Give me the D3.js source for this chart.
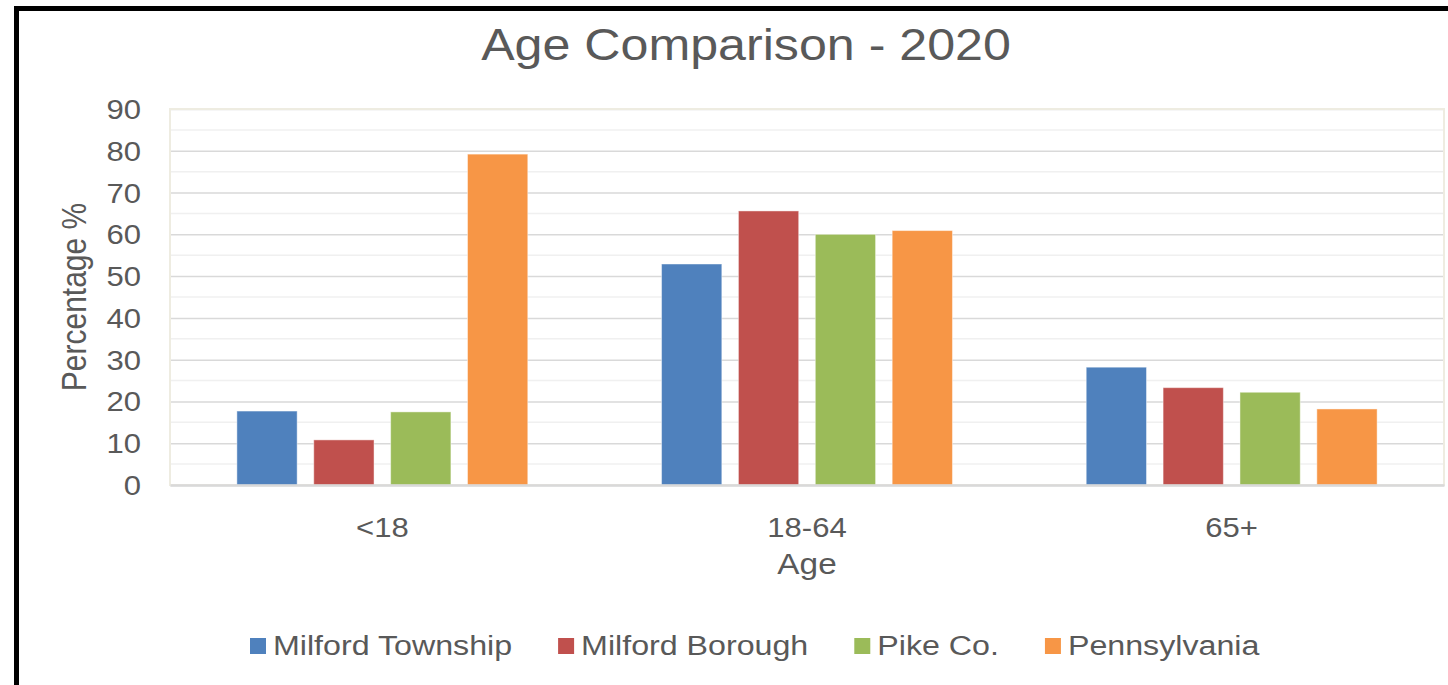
<!DOCTYPE html>
<html>
<head>
<meta charset="utf-8">
<script src="https://cdn.jsdelivr.net/npm/d3@7"></script>
<style>
  body { margin: 0; background: #fff; }
  text { font-family: "Liberation Sans", Arial, sans-serif; fill: #595959; }
</style>
</head>
<body>
<div id="chart"></div>
<script>
// data
const ageGroups = ["<18", "18-64", "65+"];
const seriesNames = ["Milford Township", "Milford Borough", "Pike Co.", "Pennsylvania"];
const milfordTownship = [17.7, 52.9, 28.2];
const milfordBorough = [10.8, 65.6, 23.3];
const pikeCo = [17.5, 60.0, 22.2];
const pennsylvania = [79.2, 60.9, 18.2];
const yTicks = [0, 10, 20, 30, 40, 50, 60, 70, 80, 90];
const colors = ["#4F81BD", "#C0504D", "#9BBB59", "#F79646"];

const seriesValues = [milfordTownship, milfordBorough, pikeCo, pennsylvania];
const rows = ageGroups.map((g, i) => ({
  group: g,
  vals: seriesNames.map((s, j) => ({ key: s, value: seriesValues[j][i] }))
}));

const width = 1448, height = 685;
const sx = 1.15; // text in the original is a bit wide

const svg = d3.select("#chart").append("svg")
  .attr("width", width)
  .attr("height", height);

// outer black frame (right/bottom cut off in the picture)
svg.append("rect")
  .attr("x", 16.5).attr("y", 8.5)
  .attr("width", 1500).attr("height", 800)
  .attr("fill", "none")
  .attr("stroke", "#000")
  .attr("stroke-width", 5);

const plotL = 170, plotR = 1444, plotT = 109, plotB = 485;

const x0 = d3.scaleBand().domain(ageGroups).range([plotL, plotR]);
const x1 = d3.scaleBand().domain(seriesNames)
  .range([0, x0.bandwidth()])
  .paddingInner(0.216)
  .paddingOuter(0.87);
const y = d3.scaleLinear().domain([0, 90]).range([plotB, plotT]);

// minor gridlines
svg.append("g")
  .selectAll("line")
  .data(d3.range(5, 90, 10))
  .join("line")
  .attr("x1", plotL).attr("x2", plotR)
  .attr("y1", d => y(d)).attr("y2", d => y(d))
  .attr("stroke", "#F0F0F0")
  .attr("stroke-width", 1.5);

// major gridlines + labels through the axis
const yAxis = svg.append("g")
  .attr("transform", `translate(${plotL},0)`)
  .call(d3.axisLeft(y).tickValues(yTicks).tickSize(-(plotR - plotL)).tickPadding(0));
yAxis.select(".domain").remove();
yAxis.selectAll(".tick line")
  .attr("stroke", "#D9D9D9")
  .attr("stroke-width", 1.5);
yAxis.selectAll(".tick text")
  .attr("x", 0)
  .attr("transform", `translate(-29,0) scale(${sx},1)`)
  .attr("dy", "0.35em")
  .style("font-size", "27px")
  .style("font-family", "'Liberation Sans', Arial, sans-serif")
  .attr("fill", "#595959");

// plot area border (beige)
svg.append("rect")
  .attr("x", plotL).attr("y", plotT)
  .attr("width", plotR - plotL).attr("height", plotB - plotT)
  .attr("fill", "none")
  .attr("stroke", "#EEECE1")
  .attr("stroke-width", 2);

// bars
svg.append("g")
  .selectAll("g")
  .data(rows)
  .join("g")
  .attr("transform", d => `translate(${x0(d.group)},0)`)
  .selectAll("rect")
  .data(d => d.vals)
  .join("rect")
  .attr("x", d => x1(d.key))
  .attr("width", x1.bandwidth())
  .attr("y", d => y(d.value))
  .attr("height", d => y(0) - y(d.value))
  .attr("fill", (d, i) => colors[i])
  .attr("stroke", "rgba(255,255,255,0.45)")
  .attr("stroke-width", 1);

// x axis
const xAxis = svg.append("g")
  .attr("transform", `translate(0,${plotB})`)
  .call(d3.axisBottom(x0).tickSize(0).tickPadding(0));
xAxis.select(".domain")
  .attr("stroke", "#D9D9D9")
  .attr("stroke-width", 2.5);
xAxis.selectAll(".tick text")
  .attr("y", 0)
  .attr("dy", 0)
  .attr("transform", `translate(0,52) scale(${sx},1)`)
  .style("font-size", "27px")
  .style("font-family", "'Liberation Sans', Arial, sans-serif")
  .attr("fill", "#595959");

// title
svg.append("text")
  .attr("transform", `translate(746,60) scale(1.14,1)`)
  .attr("text-anchor", "middle")
  .style("font-size", "44px")
  .text("Age Comparison - 2020");

// axis titles
svg.append("text")
  .attr("transform", `translate(${(plotL + plotR) / 2},574) scale(${sx},1)`)
  .attr("text-anchor", "middle")
  .style("font-size", "29px")
  .text("Age");

svg.append("text")
  .attr("transform", `translate(86,${(plotT + plotB) / 2}) rotate(-90) scale(1,${sx})`)
  .attr("text-anchor", "middle")
  .style("font-size", "30px")
  .text("Percentage %");

// legend
const legend = svg.append("g").attr("transform", "translate(0,655)");
const lsx = 1.15;
let lx = 250;
seriesNames.forEach((name, i) => {
  const item = legend.append("g").attr("transform", `translate(${lx},0)`);
  item.append("rect")
    .attr("x", 0).attr("y", -17)
    .attr("width", 16).attr("height", 16)
    .attr("fill", colors[i]);
  const t = item.append("text")
    .attr("transform", `translate(23,0) scale(${lsx},1)`)
    .style("font-size", "28px")
    .text(name);
  const w = t.node().getComputedTextLength() * lsx;
  lx += 23 + w + 46;
});
</script>
</body>
</html>
